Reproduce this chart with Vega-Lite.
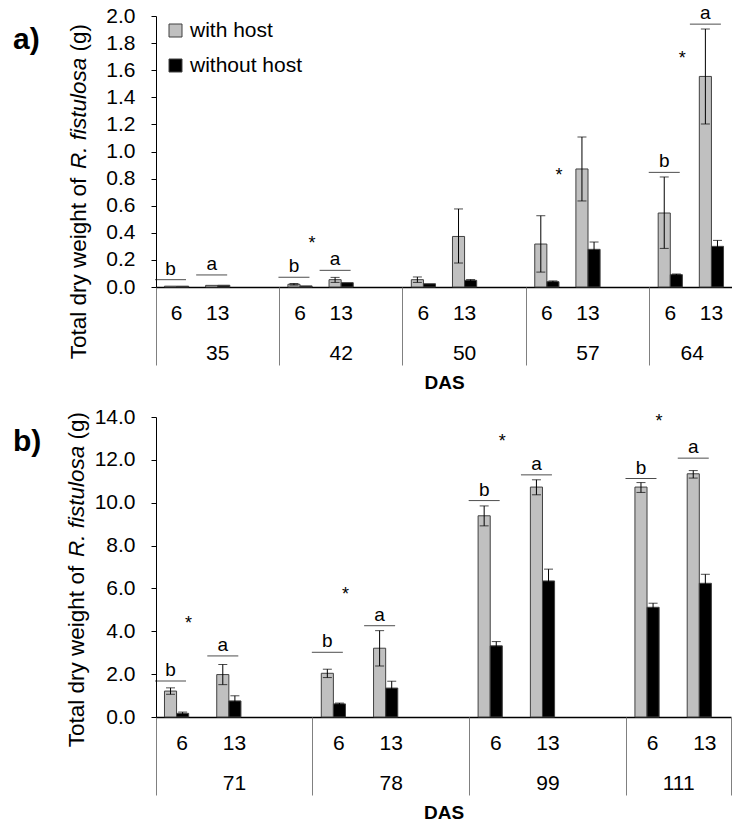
{
  "$schema": "https://vega.github.io/schema/vega-lite/v6.json",
  "padding": {"left": 13, "top": 4, "right": 0, "bottom": 0},
  "spacing": 14,
  "config": {
    "font": "Liberation Sans",
    "view": {"stroke": null},
    "axis": {"grid": false, "labelColor": "#000", "titleColor": "#000", "labelFont": "Liberation Sans", "titleFont": "Liberation Sans"},
    "legend": {"labelColor": "#000", "labelFont": "Liberation Sans"},
    "title": {"color": "#000", "font": "Liberation Sans"}
  },
  "datasets": {
    "barsA": [
      {"slot": "35|6", "host": "with host", "mean": 0.006, "lo": null, "hi": null},
      {"slot": "35|6", "host": "without host", "mean": 0.006, "lo": null, "hi": null},
      {"slot": "35|13", "host": "with host", "mean": 0.012, "lo": null, "hi": null},
      {"slot": "35|13", "host": "without host", "mean": 0.013, "lo": null, "hi": null},
      {"slot": "42|6", "host": "with host", "mean": 0.02, "lo": 0.014, "hi": 0.026},
      {"slot": "42|6", "host": "without host", "mean": 0.008, "lo": null, "hi": null},
      {"slot": "42|13", "host": "with host", "mean": 0.054, "lo": 0.034, "hi": 0.071},
      {"slot": "42|13", "host": "without host", "mean": 0.032, "lo": null, "hi": null},
      {"slot": "50|6", "host": "with host", "mean": 0.054, "lo": 0.034, "hi": 0.074},
      {"slot": "50|6", "host": "without host", "mean": 0.024, "lo": null, "hi": null},
      {"slot": "50|13", "host": "with host", "mean": 0.373, "lo": 0.177, "hi": 0.576},
      {"slot": "50|13", "host": "without host", "mean": 0.049, "lo": 0.043, "hi": 0.055},
      {"slot": "57|6", "host": "with host", "mean": 0.317, "lo": 0.11, "hi": 0.526},
      {"slot": "57|6", "host": "without host", "mean": 0.039, "lo": 0.033, "hi": 0.045},
      {"slot": "57|13", "host": "with host", "mean": 0.871, "lo": 0.635, "hi": 1.107},
      {"slot": "57|13", "host": "without host", "mean": 0.278, "lo": 0.224, "hi": 0.332},
      {"slot": "64|6", "host": "with host", "mean": 0.546, "lo": 0.285, "hi": 0.812},
      {"slot": "64|6", "host": "without host", "mean": 0.091, "lo": 0.086, "hi": 0.096},
      {"slot": "64|13", "host": "with host", "mean": 1.554, "lo": 1.203, "hi": 1.904},
      {"slot": "64|13", "host": "without host", "mean": 0.3, "lo": 0.256, "hi": 0.344}
    ],
    "lettersA": [
      {"slot": "35|6", "y": 0.054, "letter": "b"},
      {"slot": "35|13", "y": 0.089, "letter": "a"},
      {"slot": "42|6", "y": 0.072, "letter": "b"},
      {"slot": "42|13", "y": 0.123, "letter": "a"},
      {"slot": "64|6", "y": 0.846, "letter": "b"},
      {"slot": "64|13", "y": 1.94, "letter": "a"}
    ],
    "starsA": [
      {"slot": "42|6", "y": 0.283},
      {"slot": "57|6", "y": 0.78},
      {"slot": "64|6", "y": 1.649}
    ],
    "barsB": [
      {"slot": "71|6", "host": "with host", "mean": 1.21, "lo": 1.06, "hi": 1.36},
      {"slot": "71|6", "host": "without host", "mean": 0.17, "lo": 0.11, "hi": 0.23},
      {"slot": "71|13", "host": "with host", "mean": 1.98, "lo": 1.51, "hi": 2.45},
      {"slot": "71|13", "host": "without host", "mean": 0.75, "lo": 0.51, "hi": 0.99},
      {"slot": "78|6", "host": "with host", "mean": 2.04, "lo": 1.84, "hi": 2.23},
      {"slot": "78|6", "host": "without host", "mean": 0.61, "lo": 0.57, "hi": 0.65},
      {"slot": "78|13", "host": "with host", "mean": 3.21, "lo": 2.38, "hi": 4.03},
      {"slot": "78|13", "host": "without host", "mean": 1.35, "lo": 1.03, "hi": 1.67},
      {"slot": "99|6", "host": "with host", "mean": 9.39, "lo": 8.92, "hi": 9.85},
      {"slot": "99|6", "host": "without host", "mean": 3.32, "lo": 3.12, "hi": 3.52},
      {"slot": "99|13", "host": "with host", "mean": 10.73, "lo": 10.37, "hi": 11.07},
      {"slot": "99|13", "host": "without host", "mean": 6.35, "lo": 5.8, "hi": 6.9},
      {"slot": "111|6", "host": "with host", "mean": 10.73, "lo": 10.48, "hi": 10.94},
      {"slot": "111|6", "host": "without host", "mean": 5.12, "lo": 4.93, "hi": 5.31},
      {"slot": "111|13", "host": "with host", "mean": 11.35, "lo": 11.15, "hi": 11.5},
      {"slot": "111|13", "host": "without host", "mean": 6.24, "lo": 5.82, "hi": 6.66}
    ],
    "lettersB": [
      {"slot": "71|6", "y": 1.68, "letter": "b"},
      {"slot": "71|13", "y": 2.85, "letter": "a"},
      {"slot": "78|6", "y": 3.02, "letter": "b"},
      {"slot": "78|13", "y": 4.26, "letter": "a"},
      {"slot": "99|6", "y": 10.1, "letter": "b"},
      {"slot": "99|13", "y": 11.3, "letter": "a"},
      {"slot": "111|6", "y": 11.13, "letter": "b"},
      {"slot": "111|13", "y": 12.08, "letter": "a"}
    ],
    "starsB": [
      {"slot": "71|6", "y": 4.13},
      {"slot": "78|6", "y": 5.47},
      {"slot": "99|6", "y": 12.58},
      {"slot": "111|6", "y": 13.53}
    ]
  },
  "vconcat": [
    {
      "width": 576,
      "height": 271,
      "title": {"text": "a)", "anchor": "start", "frame": "group", "fontSize": 30, "fontWeight": "bold", "dx": -143, "dy": 75, "baseline": "alphabetic", "offset": 0},
      "resolve": {"axis": {"x": "independent", "y": "independent"}},
      "layer": [
        {
          "data": {"name": "barsA"},
          "mark": {"type": "bar", "stroke": "#404040", "strokeWidth": 1},
          "encoding": {
            "x": {"field": "slot", "type": "nominal",
              "scale": {"domain": ["35|6","35|13","35|x","42|6","42|13","42|x","50|6","50|13","50|x","57|6","57|13","57|x","64|6","64|13"], "paddingInner": 0, "paddingOuter": 0},
              "axis": {"orient": "bottom", "title": null, "labelExpr": "split(datum.value,'|')[1] == 'x' ? '' : split(datum.value,'|')[1]", "ticks": false, "tickSize": 0, "labelPadding": 15, "labelFontSize": 21, "labelAngle": 0, "domainColor": "#000", "domainWidth": 1.5}},
            "xOffset": {"field": "host", "type": "nominal", "scale": {"domain": ["with host", "without host"], "paddingInner": 0, "paddingOuter": 0.7}},
            "y": {"field": "mean", "type": "quantitative",
              "scale": {"domain": [0, 2], "nice": false},
              "axis": {"orient": "left", "values": [0,0.2,0.4,0.6,0.8,1.0,1.2,1.4,1.6,1.8,2.0], "format": ".1f", "labelFontSize": 21, "tickSize": 5, "tickColor": "#000", "labelPadding": 16, "domainColor": "#000",
                "title": "Total dry weight of", "titleFontSize": 22.5, "titleFontWeight": "normal", "titleAngle": -90, "titleAlign": "left", "titleBaseline": "alphabetic", "titleX": -71, "titleY": 342.7}},
            "color": {"field": "host", "type": "nominal",
              "scale": {"domain": ["with host", "without host"], "range": ["#C0C0C0", "#000000"]},
              "legend": {"orient": "none", "legendX": 9, "legendY": 4, "title": null, "symbolType": "square", "symbolSize": 169, "symbolStrokeColor": "#404040", "symbolStrokeWidth": 1, "labelFontSize": 21, "labelOffset": 4, "rowPadding": 13, "padding": 0}}
          }
        },
        {
          "data": {"name": "barsA"},
          "mark": {"type": "rule", "color": "#000", "strokeWidth": 1},
          "encoding": {
            "x": {"field": "slot", "type": "nominal", "axis": null},
            "xOffset": {"field": "host", "type": "nominal"},
            "y": {"field": "lo", "type": "quantitative",
              "axis": {"orient": "left", "labels": false, "ticks": false, "domain": false, "title": "R. fistulosa", "titleFontSize": 22.5, "titleFontWeight": "normal", "titleFontStyle": "italic", "titleAngle": -90, "titleAlign": "left", "titleBaseline": "alphabetic", "titleX": -71, "titleY": 152.6}},
            "y2": {"field": "hi"}
          }
        },
        {
          "data": {"name": "barsA"},
          "mark": {"type": "tick", "orient": "horizontal", "color": "#000", "size": 9, "thickness": 1},
          "encoding": {
            "x": {"field": "slot", "type": "nominal", "axis": null},
            "xOffset": {"field": "host", "type": "nominal"},
            "y": {"field": "hi", "type": "quantitative",
              "axis": {"orient": "left", "labels": false, "ticks": false, "domain": false, "title": "(g)", "titleFontSize": 22.5, "titleFontWeight": "normal", "titleAngle": -90, "titleAlign": "left", "titleBaseline": "alphabetic", "titleX": -71, "titleY": 35}}
          }
        },
        {
          "data": {"name": "barsA"},
          "mark": {"type": "tick", "orient": "horizontal", "color": "#000", "size": 9, "thickness": 1},
          "encoding": {
            "x": {"field": "slot", "type": "nominal", "axis": null},
            "xOffset": {"field": "host", "type": "nominal"},
            "y": {"field": "lo", "type": "quantitative", "axis": null}
          }
        },
        {
          "data": {"name": "lettersA"},
          "mark": {"type": "tick", "orient": "horizontal", "color": "#000", "size": 31, "thickness": 1},
          "encoding": {
            "x": {"field": "slot", "type": "nominal",
              "axis": {"orient": "bottom", "title": null, "labels": false, "domain": false, "bandPosition": 0, "values": ["35|6","42|6","50|6","57|6","64|6"], "tickSize": 78, "tickColor": "#808080", "tickWidth": 1}},
            "xOffset": {"datum": "with host"},
            "y": {"field": "y", "type": "quantitative", "axis": null}
          }
        },
        {
          "data": {"name": "lettersA"},
          "mark": {"type": "text", "baseline": "alphabetic", "dy": -5, "fontSize": 19, "color": "#000"},
          "encoding": {
            "x": {"field": "slot", "type": "nominal",
              "axis": {"orient": "bottom", "values": ["35|13","42|13","50|13","57|13"], "labelExpr": "split(datum.value,'|')[0]", "ticks": false, "tickSize": 0, "domain": false, "labelPadding": 55, "labelFontSize": 21, "labelAngle": 0,
                "title": "DAS", "titleFontSize": 19, "titleFontWeight": "bold", "titlePadding": 10}},
            "xOffset": {"datum": "with host"},
            "y": {"field": "y", "type": "quantitative", "axis": null},
            "text": {"field": "letter"}
          }
        },
        {
          "data": {"name": "starsA"},
          "mark": {"type": "text", "baseline": "alphabetic", "dx": 6, "fontSize": 18, "color": "#000"},
          "encoding": {
            "x": {"field": "slot", "type": "nominal",
              "axis": {"orient": "bottom", "values": ["64|6"], "labelOffset": 22, "labelExpr": "split(datum.value,'|')[0]", "ticks": false, "tickSize": 0, "domain": false, "labelPadding": 55, "labelFontSize": 21, "labelAngle": 0, "title": null}},
            "xOffset": {"datum": "without host"},
            "y": {"field": "y", "type": "quantitative", "axis": null},
            "text": {"value": "*"}
          }
        }
      ]
    },
    {
      "width": 575,
      "height": 300,
      "title": {"text": "b)", "anchor": "start", "frame": "group", "fontSize": 30, "fontWeight": "bold", "dx": -143, "dy": 75, "baseline": "alphabetic", "offset": 0},
      "resolve": {"axis": {"x": "independent", "y": "independent"}},
      "layer": [
        {
          "data": {"name": "barsB"},
          "mark": {"type": "bar", "stroke": "#404040", "strokeWidth": 1},
          "encoding": {
            "x": {"field": "slot", "type": "nominal",
              "scale": {"domain": ["71|6","71|13","71|x","78|6","78|13","78|x","99|6","99|13","99|x","111|6","111|13"], "paddingInner": 0, "paddingOuter": 0},
              "axis": {"orient": "bottom", "title": null, "labelExpr": "split(datum.value,'|')[1] == 'x' ? '' : split(datum.value,'|')[1]", "ticks": false, "tickSize": 0, "labelPadding": 15, "labelFontSize": 21, "labelAngle": 0, "domainColor": "#000", "domainWidth": 1.5}},
            "xOffset": {"field": "host", "type": "nominal", "scale": {"domain": ["with host", "without host"], "paddingInner": 0, "paddingOuter": 0.7}},
            "y": {"field": "mean", "type": "quantitative",
              "scale": {"domain": [0, 14], "nice": false},
              "axis": {"orient": "left", "values": [0,2,4,6,8,10,12,14], "format": ".1f", "labelFontSize": 21, "tickSize": 5, "tickColor": "#000", "labelPadding": 16, "domainColor": "#000",
                "title": "Total dry weight of", "titleFontSize": 22.5, "titleFontWeight": "normal", "titleAngle": -90, "titleAlign": "left", "titleBaseline": "alphabetic", "titleX": -73, "titleY": 329.7}},
            "color": {"field": "host", "type": "nominal",
              "scale": {"domain": ["with host", "without host"], "range": ["#C0C0C0", "#000000"]},
              "legend": {"orient": "none", "legendX": 26, "legendY": 22, "title": null, "symbolType": "square", "symbolSize": 132, "symbolStrokeColor": "#404040", "symbolStrokeWidth": 1, "labelFontSize": 21, "labelOffset": 5, "rowPadding": 13, "padding": 0}}
          }
        },
        {
          "data": {"name": "barsB"},
          "mark": {"type": "rule", "color": "#000", "strokeWidth": 1},
          "encoding": {
            "x": {"field": "slot", "type": "nominal", "axis": null},
            "xOffset": {"field": "host", "type": "nominal"},
            "y": {"field": "lo", "type": "quantitative",
              "axis": {"orient": "left", "labels": false, "ticks": false, "domain": false, "title": "R. fistulosa", "titleFontSize": 22.5, "titleFontWeight": "normal", "titleFontStyle": "italic", "titleAngle": -90, "titleAlign": "left", "titleBaseline": "alphabetic", "titleX": -73, "titleY": 139.6}},
            "y2": {"field": "hi"}
          }
        },
        {
          "data": {"name": "barsB"},
          "mark": {"type": "tick", "orient": "horizontal", "color": "#000", "size": 9, "thickness": 1},
          "encoding": {
            "x": {"field": "slot", "type": "nominal", "axis": null},
            "xOffset": {"field": "host", "type": "nominal"},
            "y": {"field": "hi", "type": "quantitative",
              "axis": {"orient": "left", "labels": false, "ticks": false, "domain": false, "title": "(g)", "titleFontSize": 22.5, "titleFontWeight": "normal", "titleAngle": -90, "titleAlign": "left", "titleBaseline": "alphabetic", "titleX": -73, "titleY": 22}}
          }
        },
        {
          "data": {"name": "barsB"},
          "mark": {"type": "tick", "orient": "horizontal", "color": "#000", "size": 9, "thickness": 1},
          "encoding": {
            "x": {"field": "slot", "type": "nominal",
              "axis": {"orient": "bottom", "title": null, "labels": false, "domain": false, "bandPosition": 1, "values": ["111|13"], "tickSize": 78, "tickColor": "#808080", "tickWidth": 1}},
            "xOffset": {"field": "host", "type": "nominal"},
            "y": {"field": "lo", "type": "quantitative", "axis": null}
          }
        },
        {
          "data": {"name": "lettersB"},
          "mark": {"type": "tick", "orient": "horizontal", "color": "#000", "size": 31, "thickness": 1},
          "encoding": {
            "x": {"field": "slot", "type": "nominal",
              "axis": {"orient": "bottom", "title": null, "labels": false, "domain": false, "bandPosition": 0, "values": ["71|6","78|6","99|6","111|6"], "tickSize": 78, "tickColor": "#808080", "tickWidth": 1}},
            "xOffset": {"datum": "with host"},
            "y": {"field": "y", "type": "quantitative", "axis": null}
          }
        },
        {
          "data": {"name": "lettersB"},
          "mark": {"type": "text", "baseline": "alphabetic", "dy": -5, "fontSize": 19, "color": "#000"},
          "encoding": {
            "x": {"field": "slot", "type": "nominal",
              "axis": {"orient": "bottom", "values": ["71|13","78|13","99|13"], "labelExpr": "split(datum.value,'|')[0]", "ticks": false, "tickSize": 0, "domain": false, "labelPadding": 55, "labelFontSize": 21, "labelAngle": 0,
                "title": "DAS", "titleFontSize": 19, "titleFontWeight": "bold", "titlePadding": 10}},
            "xOffset": {"datum": "with host"},
            "y": {"field": "y", "type": "quantitative", "axis": null},
            "text": {"field": "letter"}
          }
        },
        {
          "data": {"name": "starsB"},
          "mark": {"type": "text", "baseline": "alphabetic", "dx": 6, "fontSize": 18, "color": "#000"},
          "encoding": {
            "x": {"field": "slot", "type": "nominal",
              "axis": {"orient": "bottom", "values": ["111|6"], "labelOffset": 26.1, "labelExpr": "split(datum.value,'|')[0]", "ticks": false, "tickSize": 0, "domain": false, "labelPadding": 55, "labelFontSize": 21, "labelAngle": 0, "title": null}},
            "xOffset": {"datum": "without host"},
            "y": {"field": "y", "type": "quantitative", "axis": null},
            "text": {"value": "*"}
          }
        }
      ]
    }
  ]
}
